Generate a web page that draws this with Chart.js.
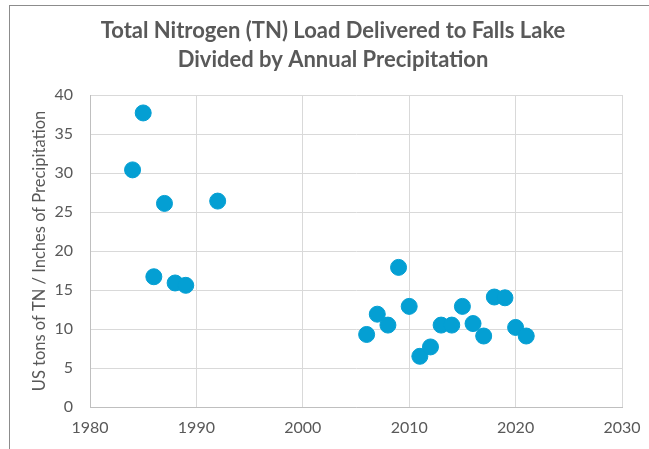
<!DOCTYPE html>
<html>
<head>
<meta charset="utf-8">
<script src="https://cdn.jsdelivr.net/npm/chart.js@4"></script>
<style>
  html, body { margin: 0; padding: 0; background: #fff; }
  #wrap { position: relative; width: 649px; height: 449px; }
  #frame { position: absolute; left: 9px; top: 5px; right: 0; bottom: -2px;
           border-left: 1px solid #8c8c8c; border-top: 1px solid #8c8c8c; }
  canvas { position: absolute; left: 0; top: 0; }
</style>
</head>
<body>
<div id="wrap">
  <div id="frame"></div>
  <canvas id="chart" width="649" height="449"></canvas>
</div>
<script>
// years and TN load / precipitation
const years = [1984, 1985, 1986, 1987, 1988, 1989, 1992,
  2006, 2007, 2008, 2009, 2010, 2011, 2012, 2013, 2014, 2015, 2016, 2017, 2018, 2019, 2020, 2021]
const tnPerInch = [30.4, 37.7, 16.7, 26.1, 15.9, 15.6, 26.4,
  9.3, 11.9, 10.5, 17.9, 12.9, 6.5, 7.7, 10.5, 10.5, 12.9, 10.7, 9.1, 14.1, 14.0, 10.2, 9.1]
const xTicks = [1980, 1990, 2000, 2010, 2020, 2030]
const yTicks = [0, 5, 10, 15, 20, 25, 30, 35, 40]

const titleLines = ["Total Nitrogen (TN) Load Delivered to Falls Lake", "Divided by Annual Precipitation"]
const yTitle = "US tons of TN / Inches of Precipitation"

const FONT = "Lato, 'Open Sans', sans-serif"
const GREY = "#595959"

// chart title drawn centred on the whole frame (the built-in one centres on the padded box)
const frameTitle = {
  id: "frameTitle",
  afterDraw(chart) {
    const c = chart.ctx
    c.save()
    c.fillStyle = GREY
    c.font = "bold 22px " + FONT
    c.textAlign = "center"
    c.textBaseline = "alphabetic"
    titleLines.forEach((line, i) => c.fillText(line, 333, 38 + i * 29))
    c.restore()
  },
}

const ctx = document.getElementById("chart").getContext("2d")

new Chart(ctx, {
  type: "scatter",
  data: {
    datasets: [
      {
        label: "TN / precipitation",
        data: years.map((y, i) => ({ x: y, y: tnPerInch[i] })),
        backgroundColor: "#049fd3",
        borderColor: "#049fd3",
        pointRadius: 8,
        pointHoverRadius: 8,
      },
    ],
  },
  options: {
    responsive: false,
    animation: false,
    layout: { padding: { left: 0, right: 27, top: 95, bottom: 7 } },
    scales: {
      x: {
        type: "linear",
        min: xTicks[0],
        max: xTicks[xTicks.length - 1],
        afterBuildTicks: (scale) => { scale.ticks = xTicks.map((v) => ({ value: v })) },
        grid: { color: "#d9d9d9", drawTicks: false },
        border: { color: "#bfbfbf" },
        ticks: {
          color: GREY, font: { family: FONT, size: 16 }, padding: 11, maxRotation: 0,
          callback: (v) => String(v),
        },
        afterFit: (scale) => {
          scale.height = 35
          scale.paddingLeft = 0
          scale.paddingRight = 0
        },
      },
      y: {
        min: yTicks[0],
        max: yTicks[yTicks.length - 1],
        afterBuildTicks: (scale) => { scale.ticks = yTicks.map((v) => ({ value: v })) },
        grid: { color: "#d9d9d9", drawTicks: false },
        border: { color: "#bfbfbf" },
        ticks: { color: GREY, font: { family: FONT, size: 16 }, padding: 17 },
        title: {
          display: true,
          text: yTitle,
          color: GREY,
          font: { family: FONT, size: 16.5 },
          padding: { top: 30, bottom: 0 },
        },
        afterFit: (scale) => {
          scale.width = 90
          scale.paddingTop = 0
          scale.paddingBottom = 0
        },
      },
    },
    plugins: {
      legend: { display: false },
      tooltip: { enabled: false },
      title: { display: false },
    },
  },
  plugins: [frameTitle],
})
</script>
</body>
</html>
